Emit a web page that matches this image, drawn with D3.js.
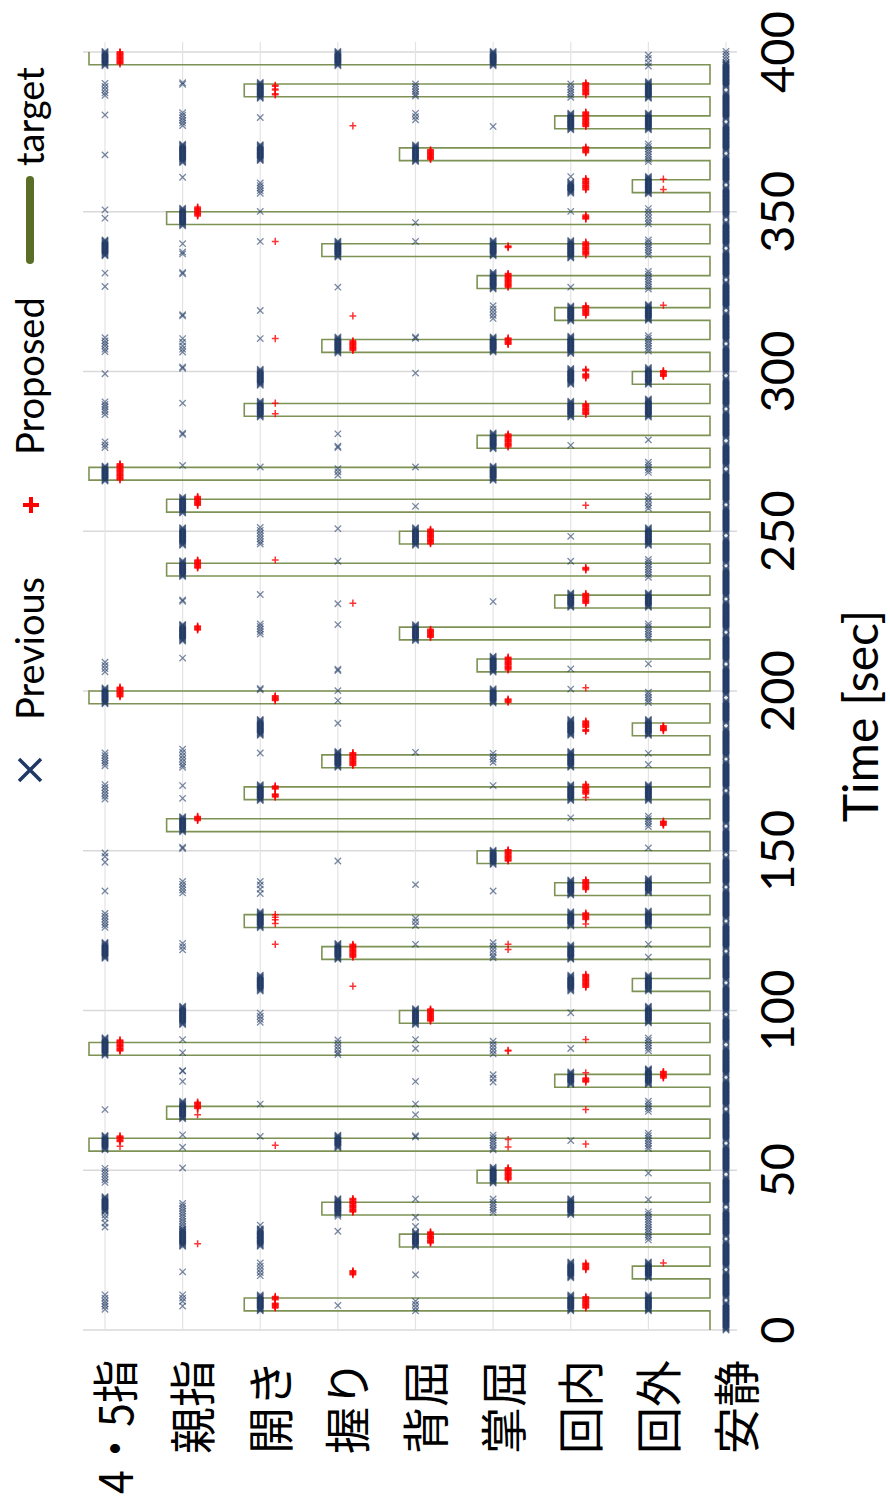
<!DOCTYPE html>
<html lang="ja">
<head>
<meta charset="UTF-8">
<title>Previous / Proposed / target</title>
<script src="https://d3js.org/d3.v7.min.js"></script>
<style>
  body { margin: 0; background: #fff; }
  svg { display: block; }
</style>
</head>
<body>
<div id="chart"></div>
<script>
// categories, top (left on screen) to bottom (right on screen)
const categories = ["4・5指", "親指", "開き", "握り", "背屈", "掌屈", "回内", "回外", "安静"];
const timeTicks = [0, 50, 100, 150, 200, 250, 300, 350, 400];

// target: onset time of each 4 s trial and the class asked for
const targetOnsets = [6, 16, 26, 36, 46, 56, 66, 76, 86, 96, 106, 116, 126, 136, 146, 156, 166, 176, 186, 196,
  206, 216, 226, 236, 246, 256, 266, 276, 286, 296, 306, 316, 326, 336, 346, 356, 366, 376, 386, 396];
const targetClasses = [2, 7, 4, 3, 5, 0, 1, 6, 0, 4, 7, 3, 2, 6, 5, 1, 2, 3, 7, 0,
  5, 4, 6, 1, 4, 1, 0, 5, 2, 7, 3, 6, 5, 3, 1, 7, 4, 6, 2, 0];
const targetDur = 4;

// Previous: continuous runs of output [class, from sec, to sec]
const prevRuns = [
  [0, 395.7, 400.4], [0, 336.2, 341.2], [0, 265.7, 270.6], [0, 196, 201.2], [0, 116.3, 121.3], [0, 86, 91.5], [0, 56.4, 61.1], [0, 37, 41.8],
  [1, 365.4, 371.2], [1, 345.6, 351.1], [1, 255.7, 260.9], [1, 245.6, 251.3], [1, 235.8, 241], [1, 215.6, 221], [1, 155.9, 160.8], [1, 95.6, 101.4], [1, 66.1, 71.6], [1, 26.2, 31.9],
  [2, 385.5, 390.5], [2, 366, 371.2], [2, 295.7, 300.9], [2, 285.7, 290.9], [2, 186.1, 191.3], [2, 165.7, 170.9], [2, 125.9, 131.1], [2, 106.1, 111.3], [2, 26.2, 31.7], [2, 6, 11],
  [3, 395.7, 400.4], [3, 335.8, 341], [3, 305.8, 311], [3, 176.1, 181.1], [3, 116, 121.2], [3, 57, 61.1], [3, 36.1, 41.3],
  [4, 365.7, 371], [4, 245.6, 251.1], [4, 215.8, 221], [4, 95.6, 100.8], [4, 26.2, 30.9],
  [5, 395.7, 400.4], [5, 336.2, 341], [5, 325.8, 331.1], [5, 306.1, 311], [5, 275.8, 281], [5, 265.9, 270.6], [5, 205.9, 211.1], [5, 196.2, 200.9], [5, 145.7, 150.4], [5, 46, 51.2],
  [6, 375.6, 381], [6, 355.8, 359.5], [6, 335.5, 341], [6, 315.8, 320.7], [6, 305.6, 311.3], [6, 296, 301.2], [6, 285.7, 290.7], [6, 226.2, 230.9], [6, 186.1, 191.3], [6, 176.1, 181.3], [6, 165.7, 170.9],
  [6, 136.1, 141], [6, 126.4, 131.1], [6, 116, 120.7], [6, 106.1, 111.3], [6, 76.8, 81], [6, 36.1, 41.3], [6, 16.3, 21.5], [6, 6, 11],
  [7, 385.5, 390.8], [7, 375.6, 381], [7, 355.6, 361.2], [7, 316, 321.2], [7, 296, 301.4], [7, 285.7, 291.5], [7, 245.6, 251.3], [7, 226.2, 230.9], [7, 186.1, 191.3], [7, 165.7, 170.9],
  [7, 136.8, 141.5], [7, 126.4, 131.3], [7, 106.1, 111.3], [7, 96.1, 101.4], [7, 76.8, 82], [7, 16.3, 21.5], [7, 6, 11],
  [8, 0, 8.5], [8, 10.1, 18.1], [8, 19.7, 27.7], [8, 29.3, 37.7], [8, 39.3, 48], [8, 49.6, 57.7], [8, 59.3, 68.4], [8, 70, 78.3], [8, 79.9, 88.6], [8, 90.2, 98],
  [8, 99.6, 107.9], [8, 109.5, 117.8], [8, 119.4, 127.2], [8, 128.8, 137.8], [8, 139.4, 148], [8, 149.6, 156.9], [8, 158.5, 168], [8, 169.6, 177.9], [8, 179.5, 188.4], [8, 190, 197.2],
  [8, 198.8, 207.7], [8, 209.3, 217.6], [8, 219.2, 228], [8, 229.6, 238.4], [8, 240, 247.9], [8, 249.5, 257.5], [8, 259.1, 268.8], [8, 270.4, 277.6], [8, 279.2, 287.5], [8, 289.1, 298],
  [8, 299.6, 307.9], [8, 309.5, 318.3], [8, 319.9, 327.9], [8, 329.5, 337.8], [8, 339.4, 346.7], [8, 348.3, 357.6], [8, 359.2, 367.5], [8, 369.1, 377.4], [8, 379, 387.4], [8, 389, 396.8]
];

// Previous: single outputs [class, [sec, ...]]
const prevPoints = [
  [0, [390.2, 389.2, 388.2, 387.2, 386.4, 380.3, 367.8, 350.6, 348, 330.8, 326.6, 310.6, 309.6, 308.8, 308, 307, 306.2, 299.3,
       290.5, 289.7, 289, 288.2, 287.4, 286.5, 278, 277, 276.2, 209, 208, 207, 206, 180.6, 179.8, 179, 178.2, 177.4, 176.6,
       170.7, 169.8, 168.9, 168, 167.1, 166.2, 149.3, 148.2, 146.4, 137.4, 130.4, 129.5, 128.6, 127.7, 126.8, 126, 69,
       50.6, 49.7, 48.8, 47.9, 47, 46.2, 36, 35, 33.5, 32.2, 11, 10, 9, 8.2, 7.4, 6.5]],
  [1, [390.4, 389.9, 381, 380.2, 379.4, 378.6, 377.8, 377, 360.8, 340, 337.4, 336.8, 331, 330.6, 317.8, 317.4, 310.3, 309.2, 308, 307, 306.1,
       301.4, 301, 290.1, 280.7, 280.3, 270.6, 228.5, 228.1, 210.3, 181.8, 180.8, 179.8, 178.8, 177.8, 176.8, 176.1, 170.4, 166.4,
       151.1, 150.7, 140.4, 139.5, 138.6, 137.7, 136.8, 121, 120, 119, 90.9, 86.8, 81.2, 81, 77.8, 61.1, 57.2, 50.7,
       39.6, 38.8, 38, 37.2, 36.4, 35.6, 34.8, 34, 33.2, 32.4, 18.2, 11, 10, 9, 7.5]],
  [2, [379.5, 359, 358.2, 357.4, 356.6, 355.8, 350.1, 340.7, 319.1, 310.3, 270.1, 251.2, 250.3, 249.4, 248.5, 247.6, 246.7, 246,
       230.2, 221, 220.2, 219.4, 218.6, 217.8, 200.8, 200.4, 180.6, 140.4, 139.3, 138, 136.6, 99.2, 98.2, 97.2, 96.3,
       70.7, 60.6, 32.8, 21, 20, 19, 18, 17]],
  [3, [326.4, 280.5, 276.6, 276.2, 269.6, 268.6, 267.6, 250.8, 240.6, 227.3, 220.8, 206.8, 206.4, 200.1, 197, 189.9,
       146.8, 90.8, 89.8, 88.8, 87.8, 86.8, 86.2, 35.6, 30.9, 7.7]],
  [4, [390, 389.2, 388.4, 387.6, 386.8, 386.2, 380.8, 379.8, 378.8, 346.6, 340.7, 310.8, 310.4, 299.5, 270.1, 257.8, 180.8,
       139.4, 128.8, 127.8, 126.6, 120.7, 90.9, 88.1, 77.8, 70.7, 67.4, 60.8, 60.4, 41, 35.3, 32.4, 17.3, 9, 8, 7, 6]],
  [5, [376.7, 320.6, 319.6, 318.6, 317.6, 316.6, 228, 180.5, 179.5, 178.6, 177.7, 170.4, 137.4,
       121.2, 120.2, 119.2, 118.2, 117.2, 116.5, 90.4, 89.4, 88.4, 87.4, 86.4, 79.9, 78.8, 77.6,
       61, 60.2, 59.4, 58.6, 57.8, 57, 56.4, 41, 40, 39.2, 38.4, 37.6, 36.8]],
  [6, [390, 389, 388.2, 387.4, 386.6, 385.8, 361, 350.1, 326.4, 276.9, 248.4, 240.6, 206.9, 200.6, 160.3, 99.3, 88.1, 59.3]],
  [7, [399, 398, 396.6, 395.6, 371.2, 370.4, 369.6, 368.8, 368, 367.2, 366.4, 365.7, 351, 350, 349, 348, 347, 346.2,
       341.2, 340.4, 339.6, 338.8, 338, 337.2, 336.4, 331.3, 330.5, 329.7, 328.9, 328.1, 327.3, 326.5, 325.8,
       311.2, 310.4, 309.6, 308.8, 308, 307.2, 306.4, 278.6, 271.6, 270.8, 270, 269.2, 268.4, 261, 260, 259, 258, 257.2,
       241.2, 240.4, 239.6, 238.8, 238, 237.2, 236.4, 235.6, 221, 220.2, 219.4, 218.6, 217.8, 217, 216.3, 208.5,
       199.6, 198.8, 198, 197.2, 196.4, 180.5, 177, 160.8, 160, 159.2, 158.4, 157.6, 150.9, 120.7, 116.7,
       91.4, 90.6, 89.8, 89, 88.2, 87.4, 81.2, 71.6, 70.8, 70, 69.2, 68.4, 61.6, 60.8, 60, 59.2, 58.4, 57.6, 56.8, 49.1, 40.8,
       37, 36.2, 35.4, 34.6, 33.8, 33, 32.2, 31.4, 30.6, 29.8, 29, 28.2]],
  [8, [397.6, 398.5, 399.4, 400.2]]
];

// Proposed: continuous runs [class, from sec, to sec]
const propRuns = [
  [0, 396.3, 400.2], [0, 266.1, 271.1], [0, 198.2, 201.4], [0, 87.3, 90.9], [0, 59, 60.9],
  [1, 348.7, 351.6], [1, 258.1, 260.9], [1, 238.5, 241], [1, 219.1, 220.5], [1, 159.5, 160.8], [1, 69.3, 71.4],
  [2, 197, 198.6], [2, 169.3, 170.4], [2, 166.8, 167.8], [2, 9.5, 10.5], [2, 6.9, 8.4],
  [3, 306.6, 309.7], [3, 176.7, 180.8], [3, 116.7, 120.7], [3, 36.9, 41.3], [3, 17.3, 18.6],
  [4, 366.4, 369.4], [4, 246.1, 250.8], [4, 216.8, 219.4], [4, 96.7, 100.6], [4, 27.2, 30.9],
  [5, 338.8, 339.4], [5, 326.4, 330.8], [5, 308.5, 310.6], [5, 276.4, 280.5], [5, 206.6, 210.6], [5, 196.5, 197.5], [5, 146.8, 150.4], [5, 87.3, 87.7], [5, 47, 50.9],
  [6, 386.6, 390.4], [6, 376.7, 381.4], [6, 368.5, 370.4], [6, 356.9, 360.5], [6, 347.7, 349], [6, 336.5, 340.7], [6, 317.6, 320.7], [6, 300.2, 300.9], [6, 298, 299.4],
  [6, 286.6, 289.9], [6, 237.9, 238.7], [6, 227.5, 230.6], [6, 188.6, 190.7], [6, 187.4, 188.1], [6, 167.8, 170.9], [6, 137.9, 141], [6, 128.5, 130.6], [6, 107.3, 111.3],
  [6, 77.6, 78.9], [6, 18.9, 21], [6, 6.9, 10.5],
  [7, 298.5, 300.3], [7, 187.6, 189.2], [7, 158, 159.3], [7, 78.9, 81]
];

// Proposed: single outputs [class, [sec, ...]]
const propPoints = [
  [0, [57.5]],
  [1, [67.4, 27]],
  [2, [389.6, 389.3, 388.4, 388.1, 386.9, 386.6, 340.7, 310.3, 290.1, 286.8, 241, 130, 129.2, 128.4, 127.2, 120.7, 57.8]],
  [3, [376.9, 317.4, 227.5, 107.6]],
  [5, [120.7, 119.1, 59.6, 57.3]],
  [6, [258.1, 201, 166.7, 127.1, 90.9, 80.5, 69, 58.2]],
  [7, [360.2, 357, 320.7, 21]]
];

const sampleStep = 0.25; // output interval of both classifiers [sec]

const width = 890, height = 1499;
const svg = d3.select("#chart").append("svg")
  .attr("width", width).attr("height", height)
  .style("font-family", "Lato, 'Noto Sans', sans-serif");

// time runs bottom -> top, classes left -> right (chart is turned 90 degrees)
const y = d3.scaleLinear().domain([0, 400]).range([1330, 52]);
const x = d3.scalePoint().domain(d3.range(categories.length)).range([105, 726]);
const prevOffset = 0, propOffset = 15, targetOffset = -16;
const plotLeft = 83, plotRight = 737;

// grid
svg.append("g").selectAll("line").data(timeTicks).join("line")
  .attr("x1", plotLeft).attr("x2", plotRight)
  .attr("y1", d => y(d)).attr("y2", d => y(d))
  .attr("stroke", "#d9d9d9").attr("stroke-width", 1.5);
svg.append("g").selectAll("line").data(x.domain()).join("line")
  .attr("x1", d => x(d)).attr("x2", d => x(d))
  .attr("y1", y(0)).attr("y2", y(400) - 10)
  .attr("stroke", "#e3e3e3").attr("stroke-width", 1.2);

// target step line
const targetPts = [[8, 0]];
targetOnsets.forEach((on, i) => {
  const c = targetClasses[i];
  targetPts.push([8, on], [c, on], [c, Math.min(on + targetDur, 400)]);
  if (on + targetDur < 400) targetPts.push([8, on + targetDur]);
});
svg.append("path")
  .attr("d", d3.line().x(d => x(d[0]) + targetOffset).y(d => y(d[1]))(targetPts))
  .attr("fill", "none").attr("stroke", "#7d9254").attr("stroke-width", 1.6);

function expand(runs, points) {
  const out = [];
  runs.forEach(([c, t0, t1]) => {
    for (let t = t0; t <= t1 + 1e-6; t += sampleStep) out.push([c, t]);
  });
  points.forEach(([c, ts]) => ts.forEach(t => out.push([c, t])));
  return out;
}

const cross = "M-3.2,-3.2L3.2,3.2M-3.2,3.2L3.2,-3.2";
const plus = "M-3.4,0H3.4M0,-3.6V3.6";

svg.append("g").selectAll("path").data(expand(prevRuns, prevPoints)).join("path")
  .attr("d", cross)
  .attr("transform", d => `translate(${x(d[0]) + prevOffset},${y(d[1])})`)
  .attr("fill", "none").attr("stroke", "#1f3864").attr("stroke-width", 1.3)
  .attr("stroke-opacity", 0.6);

svg.append("g").selectAll("path").data(expand(propRuns, propPoints)).join("path")
  .attr("d", plus)
  .attr("transform", d => `translate(${x(d[0]) + propOffset},${y(d[1])})`)
  .attr("fill", "none").attr("stroke", "#ff0000").attr("stroke-width", 1.5)
  .attr("stroke-opacity", 0.8);

// time tick labels
svg.append("g").selectAll("text").data(timeTicks).join("text")
  .attr("transform", d => `translate(794,${y(d)}) rotate(-90)`)
  .attr("text-anchor", "middle")
  .attr("font-size", 47)
  .attr("fill", "#000")
  .text(d => d);

svg.append("text")
  .attr("transform", "translate(878,716) rotate(-90)")
  .attr("text-anchor", "middle")
  .attr("font-size", 48)
  .text("Time [sec]");

// class labels
svg.append("g").selectAll("text").data(categories).join("text")
  .attr("transform", (d, i) => `translate(${x(i) + 7},1360) rotate(-90)`)
  .attr("text-anchor", "end")
  .attr("dominant-baseline", "central")
  .attr("font-family", "'Noto Sans CJK JP', sans-serif")
  .attr("font-size", 47)
  .each(function (d) {
    // the long label is set a little tighter so it stays on the page
    if (d.length > 2) d3.select(this).attr("textLength", 134).attr("lengthAdjust", "spacingAndGlyphs");
  })
  .text(d => d);

// legend
const legend = svg.append("g");
legend.append("path").attr("d", "M-11,-11L11,11M-11,11L11,-11")
  .attr("transform", "translate(30,770)")
  .attr("stroke", "#1f3864").attr("stroke-width", 3.5).attr("fill", "none");
legend.append("text").attr("transform", "translate(44,720) rotate(-90)")
  .attr("font-size", 38).text("Previous");
legend.append("path").attr("d", "M-8,0H8M0,-8V8")
  .attr("transform", "translate(31,505)")
  .attr("stroke", "#ff0000").attr("stroke-width", 4).attr("fill", "none");
legend.append("text").attr("transform", "translate(44,455) rotate(-90)")
  .attr("font-size", 38).text("Proposed");
legend.append("line").attr("x1", 30).attr("x2", 30).attr("y1", 260).attr("y2", 180)
  .attr("stroke", "#5a6e28").attr("stroke-width", 8).attr("stroke-linecap", "round");
legend.append("text").attr("transform", "translate(44,166) rotate(-90)")
  .attr("font-size", 38).text("target");
</script>
</body>
</html>
